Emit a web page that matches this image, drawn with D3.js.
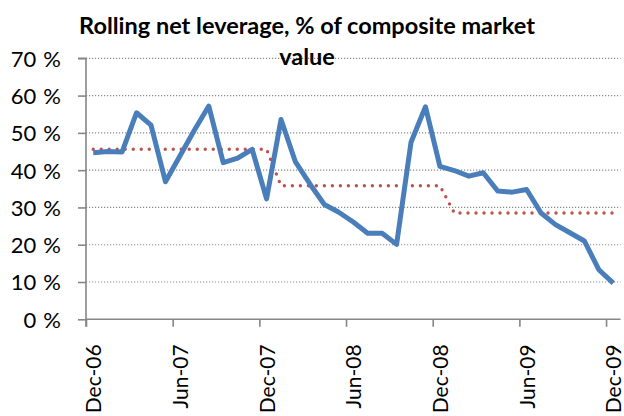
<!DOCTYPE html>
<html>
<head>
<meta charset="utf-8">
<script src="https://cdn.jsdelivr.net/npm/d3@7"></script>
<style>
  html, body { margin: 0; padding: 0; background: #fff; }
  svg { display: block; }
</style>
</head>
<body>
<svg id="chart" width="624" height="416"></svg>
<script>
// Monthly observations, Dec-06 .. Dec-09
const months = ["Dec-06","Jan-07","Feb-07","Mar-07","Apr-07","May-07","Jun-07","Jul-07","Aug-07","Sep-07","Oct-07","Nov-07",
  "Dec-07","Jan-08","Feb-08","Mar-08","Apr-08","May-08","Jun-08","Jul-08","Aug-08","Sep-08","Oct-08","Nov-08",
  "Dec-08","Jan-09","Feb-09","Mar-09","Apr-09","May-09","Jun-09","Jul-09","Aug-09","Sep-09","Oct-09","Nov-09","Dec-09"];
const leverage = [44.7, 45.0, 44.9, 55.4, 52.1, 36.9, 43.8, 50.7, 57.2, 42.0, 43.2, 45.6,
  32.3, 53.6, 42.2, 36.3, 30.8, 28.7, 26.1, 23.1, 23.1, 20.1, 47.5, 57.0,
  41.0, 39.9, 38.4, 39.3, 34.4, 34.1, 34.8, 28.5, 25.4, 23.2, 21.0, 13.3, 9.7];
const average = [45.6, 45.6, 45.6, 45.6, 45.6, 45.6, 45.6, 45.6, 45.6, 45.6, 45.6, 45.6,
  45.6, 35.8, 35.8, 35.8, 35.8, 35.8, 35.8, 35.8, 35.8, 35.8, 35.8, 35.8,
  35.8, 28.5, 28.5, 28.5, 28.5, 28.5, 28.5, 28.5, 28.5, 28.5, 28.5, 28.5, 28.5];
const tickMonths = [0, 6, 12, 18, 24, 30, 36];
const tickLabels = ["Dec-06","Jun-07","Dec-07","Jun-08","Dec-08","Jun-09","Dec-09"];
const yTicks = [0, 10, 20, 30, 40, 50, 60, 70];
const titleLines = ["Rolling net leverage, % of composite market", "value"];

const svg = d3.select("#chart");
const plotLeft = 86, plotRight = 620.5, plotTop = 58.3, plotBottom = 319.3;
const font = "Lato, 'Open Sans', 'Liberation Sans', sans-serif";

const x = d3.scaleLinear().domain([0, months.length]).range([plotLeft, plotRight]);
const y = d3.scaleLinear().domain([0, 70]).range([plotBottom, plotTop]);

// gridlines
svg.append("g").selectAll("line").data(yTicks.filter(d => d > 0)).join("line")
  .attr("x1", plotLeft).attr("x2", plotRight)
  .attr("y1", d => y(d)).attr("y2", d => y(d))
  .attr("stroke", "#8a8a8a").attr("stroke-width", 1.2)
  .attr("stroke-dasharray", "1.2,1.8");

// y axis
const yAxis = svg.append("g").attr("transform", `translate(${plotLeft},0)`)
  .call(d3.axisLeft(y).tickValues(yTicks).tickSize(8).tickPadding(17)
    .tickFormat(d => d + " %"));
yAxis.select(".domain").attr("stroke", "#868686").attr("stroke-width", 1.6)
  .attr("d", `M-8,${y(70)}H0V${plotBottom + 7.5}`);
yAxis.selectAll(".tick line").attr("stroke", "#868686").attr("stroke-width", 1.6);
yAxis.selectAll(".tick text").attr("font-family", font).attr("font-size", 22)
  .attr("word-spacing", 1.5)
  .attr("fill", "#000").attr("dy", "0.36em");

// x axis
const half = (x(1) - x(0)) / 2;
const xAxis = svg.append("g").attr("transform", `translate(0,${plotBottom})`)
  .call(d3.axisBottom(x).tickValues(tickMonths).tickSize(7.5)
    .tickFormat((d, i) => tickLabels[i]));
xAxis.select(".domain").attr("stroke", "#868686").attr("stroke-width", 1.6)
  .attr("d", `M${plotLeft},0H${plotRight}`);
xAxis.selectAll(".tick line").attr("stroke", "#868686").attr("stroke-width", 1.6);
xAxis.selectAll(".tick text")
  .attr("font-family", font).attr("font-size", 21).attr("fill", "#000")
  .attr("x", 0).attr("y", 0).attr("dy", "0.36em")
  .attr("text-anchor", "end")
  .attr("transform", `translate(${half},25) rotate(-90)`);

// series
const line = d3.line().x((d, i) => x(i + 0.5)).y(d => y(d));
svg.append("path").datum(average)
  .attr("d", line).attr("fill", "none")
  .attr("stroke", "#c0504d").attr("stroke-width", 3.4)
  .attr("stroke-linecap", "round").attr("stroke-dasharray", "0,8");
svg.append("path").datum(leverage)
  .attr("d", line).attr("fill", "none")
  .attr("stroke", "#4a7ebb").attr("stroke-width", 5)
  .attr("stroke-linejoin", "round");

// title
svg.append("text").attr("x", 307).attr("y", 33.5)
  .attr("text-anchor", "middle").attr("font-family", font)
  .attr("font-weight", "bold").attr("font-size", 23.5).attr("fill", "#000")
  .selectAll("tspan").data(titleLines).join("tspan")
  .attr("x", 307).attr("dy", (d, i) => i === 0 ? 0 : 31.5).text(d => d);
</script>
</body>
</html>
